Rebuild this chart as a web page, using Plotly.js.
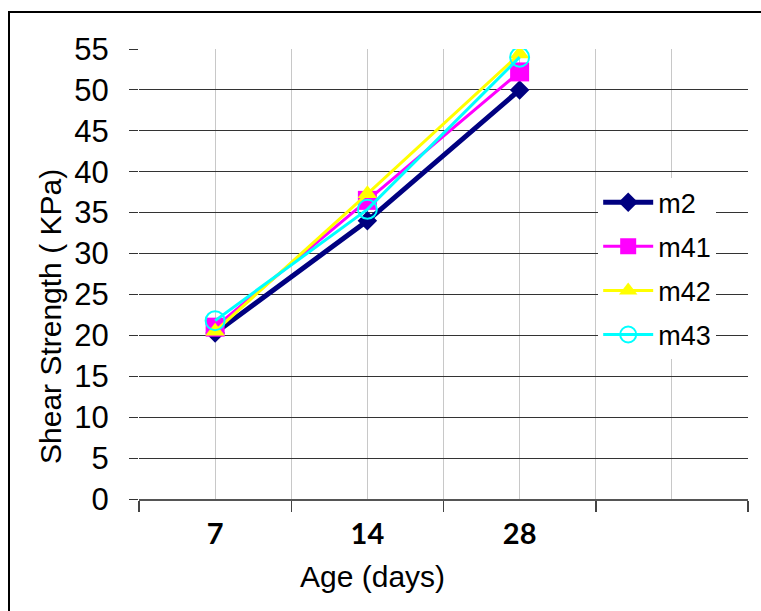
<!DOCTYPE html>
<html>
<head>
<meta charset="utf-8">
<script src="https://cdn.plot.ly/plotly-3.0.1.min.js"></script>
<style>
  html, body { margin: 0; padding: 0; background: #fff; overflow: hidden; }
  #wrap { position: relative; width: 761px; height: 611px; }
  #chart { position: absolute; left: 0; top: 0; width: 761px; height: 611px; }
  #frame { position: absolute; left: 8px; top: 11px; width: 900px; height: 800px;
           border: 2px solid #000; pointer-events: none; }
</style>
</head>
<body>
<div id="wrap"><div id="chart"></div><div id="frame"></div></div>
<script>
// ---- data ----
const categories = ['7', '14', '28', ''];
const seriesNames = ['m2', 'm41', 'm42', 'm43'];
const m2  = [20.3, 34.0, 50.0];
const m41 = [21.0, 36.5, 52.2];
const m42 = [20.5, 37.3, 54.4];
const m43 = [21.8, 35.4, 54.0];
const yTicks = [0, 5, 10, 15, 20, 25, 30, 35, 40, 45, 50, 55];
const xTitle = 'Age (days)';
const yTitle = 'Shear Strength ( KPa)';

const xIdx = categories.map((c, i) => i);
const xData = xIdx.slice(0, 3);

const styles = [
  {color: '#000080', width: 5, symbol: 'diamond', size: 15},
  {color: '#ff00ff', width: 3, symbol: 'square', size: 19},
  {color: '#ffff00', width: 3, symbol: 'triangle-up', size: 17},
  {color: '#00ffff', width: 3, symbol: 'circle-open', size: 19}
];
const values = [m2, m41, m42, m43];

const traces = values.map((v, k) => ({
  type: 'scatter',
  mode: 'lines+markers',
  x: xData,
  y: v,
  name: seriesNames[k],
  legendgroup: 'g' + k,
  line: {color: styles[k].color, width: styles[k].width},
  marker: {symbol: styles[k].symbol, size: styles[k].size, color: styles[k].color,
           line: {color: styles[k].color, width: k === 3 ? 2 : 0}}
}));

const boundaries = categories.map((c, i) => i - 0.5).concat([categories.length - 0.5]);

const layout = {
  width: 761, height: 611,
  margin: {l: 139, r: 13, t: 49, b: 112},
  paper_bgcolor: '#fff', plot_bgcolor: '#fff',
  showlegend: true,
  legend: {
    x: 0.754, y: 0.713, xanchor: 'left', yanchor: 'top',
    bgcolor: '#ffffff', borderwidth: 0,
    font: {family: 'Liberation Sans, Arial, sans-serif', size: 27, color: '#000'},
    tracegroupgap: 6, itemwidth: 50
  },
  xaxis: {
    range: [-0.5, categories.length - 0.5],
    tickmode: 'array', tickvals: xIdx, ticktext: categories,
    ticks: '', showgrid: true, gridcolor: '#c8c8c8', gridwidth: 1,
    tickfont: {family: 'Lato, Carlito, sans-serif', size: 29, color: '#000', weight: 'bold'},
    ticklabelstandoff: 9,
    minor: {tickmode: 'array', tickvals: boundaries, ticks: 'outside', ticklen: 11,
            tickwidth: 1.5, tickcolor: '#444', showgrid: true, gridcolor: '#c8c8c8', gridwidth: 1},
    showline: true, linecolor: '#555', linewidth: 1.5,
    zeroline: false, fixedrange: true
  },
  yaxis: {
    range: [0, 55],
    tickmode: 'array', tickvals: yTicks,
    ticks: 'outside', ticklen: 9, tickcolor: '#333', tickwidth: 1,
    showgrid: true, gridcolor: '#333', gridwidth: 1,
    tickfont: {family: 'Liberation Sans, Arial, sans-serif', size: 31, color: '#000'},
    ticklabelstandoff: 14,
    showline: false, zeroline: false, fixedrange: true
  },
  annotations: [
    {text: yTitle, xref: 'paper', yref: 'paper',
     x: (50 - 139) / 609, y: (499 - 317) / 450,
     xanchor: 'center', yanchor: 'middle', textangle: -90, showarrow: false,
     font: {family: 'Liberation Sans, Arial, sans-serif', size: 30, color: '#000'}},
    {text: xTitle, xref: 'paper', yref: 'paper',
     x: (372 - 139) / 609, y: (499 - 576) / 450,
     xanchor: 'center', yanchor: 'middle', showarrow: false,
     font: {family: 'Liberation Sans, Arial, sans-serif', size: 30, color: '#000'}}
  ]
};

Plotly.newPlot('chart', traces, layout, {displayModeBar: false, staticPlot: true});
</script>
</body>
</html>
